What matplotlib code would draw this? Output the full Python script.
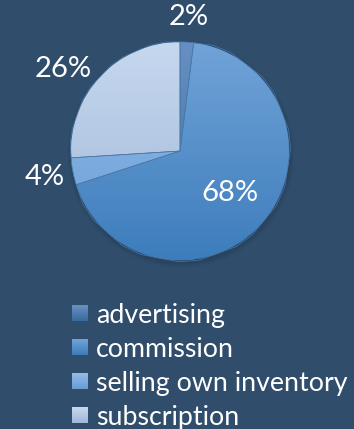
import matplotlib
matplotlib.use("Agg")
import matplotlib.pyplot as plt
from matplotlib.colors import to_rgb
from matplotlib.patches import Circle, Rectangle
import numpy as np

categories = ["advertising", "commission", "selling own inventory", "subscription"]
shares = [2, 68, 4, 26]
colors_top = ["#6690c2", "#71a3d8", "#92bceb", "#c6d8ef"]
colors_bottom = ["#3c6a9c", "#3d7dbc", "#6a9dd4", "#a1b7d8"]
colors = ["#4f7db0", "#4a89c9", "#7eaee2", "#b5c9e6"]

# label placement: (radial distance as fraction of radius, angular nudge in degrees)
label_place = [(1.23, 0), (0.60, 0), (1.26, 0), (1.31, 8)]

BG = "#304d6b"
plt.rcParams["font.family"] = ["Lato", "DejaVu Sans"]

W, H = 354, 429
fig = plt.figure(figsize=(W / 100, H / 100), dpi=100, facecolor=BG)
ax = fig.add_axes([0, 0, 1, 1])
ax.set_facecolor(BG)

cx, cy, R = 180, H - 151, 109


def vertical_gradient(top, bottom, n=128):
    t = np.linspace(0, 1, n)[:, None, None]
    return (1 - t) * np.array(to_rgb(top)) + t * np.array(to_rgb(bottom))


# soft drop shadow under the pie
for i, a in enumerate(np.linspace(0.06, 0.012, 5)):
    ax.add_patch(Circle((cx + 1, cy - 3), R + 1 + i, color="#10202f", alpha=a, zorder=1, lw=0))

wedges, _ = ax.pie(shares, colors=colors, startangle=90, counterclock=False,
                   center=(cx, cy), radius=R, frame=True,
                   wedgeprops=dict(edgecolor="#3d6a99", linewidth=0.6, zorder=2))

# shade each slice with a top-to-bottom gradient
for w, ct, cb in zip(wedges, colors_top, colors_bottom):
    im = ax.imshow(vertical_gradient(ct, cb), extent=(cx - R, cx + R, cy - R, cy + R),
                   origin="upper", aspect="auto", zorder=2.5, interpolation="bilinear")
    im.set_clip_path(w)
    edge = plt.Polygon(w.get_path().transformed(w.get_patch_transform()).vertices,
                       closed=True, fill=False, edgecolor="#4a78a8", linewidth=0.5, zorder=2.6)
    ax.add_patch(edge)

ax.set_xlim(0, W)
ax.set_ylim(0, H)
ax.set_aspect("equal")
ax.axis("off")

for w, v, (rf, nudge) in zip(wedges, shares, label_place):
    mid = np.deg2rad((w.theta1 + w.theta2) / 2 + nudge)
    x = cx + rf * R * np.cos(mid)
    y = cy + rf * R * np.sin(mid)
    ax.text(x, y, f"{v}%", color="white", fontsize=21, ha="center", va="center", zorder=5)

# legend: shaded colour squares with labels stacked below the pie
row0, step, sq = H - 313, 34, 16
for i, (name, c, ct, cb) in enumerate(zip(categories, colors, colors_top, colors_bottom)):
    yc = row0 - i * step
    box = Rectangle((72, yc - sq / 2), sq, sq, facecolor=c, edgecolor="none", zorder=3)
    ax.add_patch(box)
    im = ax.imshow(vertical_gradient(ct, cb, 16), extent=(72, 72 + sq, yc - sq / 2, yc + sq / 2),
                   origin="upper", aspect="auto", zorder=3.5, interpolation="bilinear")
    im.set_clip_path(box)
    ax.text(96, yc, name, color="white", fontsize=19.3, ha="left", va="center_baseline", zorder=5)

ax.set_xlim(0, W)
ax.set_ylim(0, H)
fig.savefig("out.png", dpi=100, facecolor=BG)
